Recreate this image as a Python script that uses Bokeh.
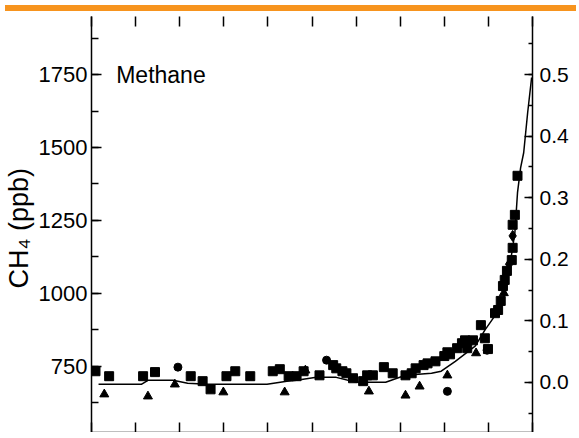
from bokeh.plotting import figure
from bokeh.models import Range1d, LinearAxis, SingleIntervalTicker, FixedTicker, PrintfTickFormatter, Label, Div
from bokeh.layouts import column
from bokeh.embed import file_html
from bokeh.resources import INLINE

# ---- data ----
year_ticks = [1000, 1100, 1200, 1300, 1400, 1500, 1600, 1700, 1800, 1900, 2000]

line_year = [1016, 1113, 1128, 1185, 1218, 1263, 1398, 1443, 1465, 1510, 1555, 1600,
             1667, 1712, 1771, 1793, 1825, 1870, 1892, 1930, 1942, 1953, 1960, 1966,
             1973, 1980, 1989, 1998]
line_ppb = [688, 688, 702, 702, 692, 688, 688, 699, 702, 712, 712, 695,
            695, 719, 726, 733, 767, 819, 874, 956, 1035, 1138, 1207, 1345,
            1430, 1482, 1619, 1740]

sq_year = [1009, 1040, 1117, 1144, 1225, 1252, 1270, 1306, 1326, 1360, 1411, 1427,
           1447, 1465, 1481, 1517, 1548, 1555, 1569, 1578, 1593, 1616, 1625, 1638,
           1663, 1683, 1712, 1726, 1735, 1753, 1762, 1780, 1800, 1807, 1813, 1829,
           1840, 1847, 1852, 1865, 1883, 1892, 1899, 1915, 1922, 1928, 1933, 1937,
           1942, 1953, 1955, 1955, 1960, 1966]
sq_ppb = [733, 716, 716, 730, 716, 699, 671, 716, 733, 716, 733, 740,
          716, 716, 733, 719, 754, 743, 733, 726, 709, 699, 719, 719,
          747, 726, 719, 726, 743, 754, 760, 767, 785, 798, 791, 812,
          829, 839, 812, 839, 891, 846, 809, 932, 943, 974, 1025, 1046,
          1077, 1114, 1156, 1235, 1269, 1403]

tri_year = [1029, 1128, 1189, 1299, 1438, 1485, 1629, 1712, 1744, 1807, 1872, 1935]
tri_ppb = [654, 647, 688, 661, 661, 736, 664, 650, 681, 719, 795, 1001]

circ_year = [1196, 1533, 1807, 1897]
circ_ppb = [747, 771, 664, 805]

dia_year = [1955, 1947]
dia_ppb = [1197, 1100]

FONT = "Liberation Sans"
X0, X1 = 1000, 2000
W = 571

p = figure(width=W, height=416, output_backend="svg", toolbar_location=None,
           x_range=Range1d(X0, X1), y_range=Range1d(523, 1949),
           min_border_left=85, min_border_right=30, min_border_top=0, min_border_bottom=0,
           background_fill_color="white", border_fill_color="white")
p.outline_line_color = None
p.xgrid.grid_line_color = None
p.ygrid.grid_line_color = None
p.extra_y_ranges = {"rf": Range1d(-0.0814, 0.5945)}

# bottom axis (tick marks only; its labels lie below the visible area)
xa = p.xaxis[0]
xa.ticker = FixedTicker(ticks=[], minor_ticks=year_ticks)
xa.minor_tick_in = 10
xa.minor_tick_out = 0
xa.minor_tick_line_width = 1.5
xa.major_label_standoff = 0
xa.axis_line_width = 1.5
xa.axis_label = None

# top axis (ticks only)
ta = LinearAxis(ticker=FixedTicker(ticks=[], minor_ticks=year_ticks),
                axis_line_color=None, minor_tick_in=10, minor_tick_out=0,
                minor_tick_line_width=1.5, major_label_standoff=0, axis_label=None)
p.add_layout(ta, "above")

# left axis
ya = p.yaxis[0]
ya.ticker = SingleIntervalTicker(interval=250, num_minor_ticks=2)
ya.major_tick_in = 10
ya.major_tick_out = 0
ya.minor_tick_in = 7
ya.minor_tick_out = 0
ya.axis_line_width = 1.5
ya.major_tick_line_width = 1.5
ya.minor_tick_line_width = 1.5
ya.major_label_text_font = FONT
ya.major_label_text_font_size = "22px"
ya.major_label_text_color = "black"
ya.major_label_standoff = 4
ya.axis_label = "CH\u2084  (ppb)"
ya.axis_label_text_font = FONT
ya.axis_label_text_font_size = "27px"
ya.axis_label_text_font_style = "normal"
ya.axis_label_text_color = "black"
ya.axis_label_standoff = 2

# right axis
ra = LinearAxis(y_range_name="rf",
                ticker=SingleIntervalTicker(interval=0.1, num_minor_ticks=2),
                formatter=PrintfTickFormatter(format="%.1f"),
                major_tick_in=8, major_tick_out=0, minor_tick_in=4, minor_tick_out=0,
                axis_line_width=1.5, major_tick_line_width=1.5, minor_tick_line_width=1.5,
                major_label_text_font=FONT, major_label_text_font_size="21px",
                major_label_text_color="black", major_label_standoff=7,
                axis_label=None)
p.add_layout(ra, "right")

# data
p.line(line_year, line_ppb, line_color="black", line_width=1.5)
p.scatter(sq_year, sq_ppb, marker="square", size=9, color="black")
p.scatter(tri_year, tri_ppb, marker="triangle", size=9, color="black")
p.scatter(circ_year, circ_ppb, marker="circle", size=8, color="black")
p.scatter(dia_year, dia_ppb, marker="diamond", size=11, color="black")

# panel title
p.add_layout(Label(x=1056, y=1750, text="Methane", text_font=FONT,
                   text_font_size="23px", text_color="black", text_baseline="alphabetic"))

bar = Div(text="", width=W, height=6, styles={"background-color": "#F7941E"})
layout = column(bar, p, spacing=0)

open("out.html", "w").write(file_html(layout, INLINE))
